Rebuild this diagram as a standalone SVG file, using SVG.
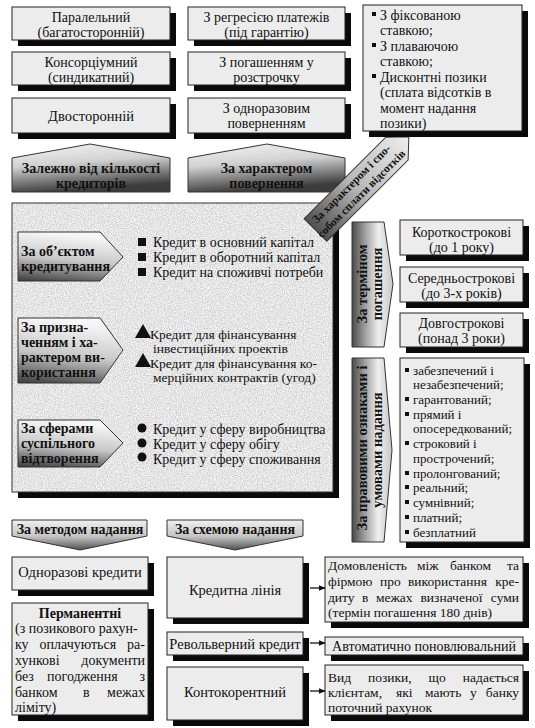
<svg xmlns="http://www.w3.org/2000/svg" width="535" height="728" viewBox="0 0 535 728">
<defs>
<style>
.box{fill:#ececec;stroke:#222;stroke-width:1}
.sh{fill:#0a0a0a}
.t{font-family:"Liberation Serif","Times New Roman","DejaVu Serif",serif;font-size:14px;fill:#111}
.s{font-size:13px}
.m{font-size:13.5px}
.b{font-weight:bold}
.c{text-anchor:middle}
.e{text-anchor:end}
.ar{stroke:#333;stroke-width:1}
.con{stroke:#111;stroke-width:1.3;fill:none}
</style>
<linearGradient id="gUp" x1="0" y1="0" x2="0.25" y2="1">
<stop offset="0" stop-color="#f4f4f4"/><stop offset="0.45" stop-color="#d2d2d2"/><stop offset="1" stop-color="#3c3c3c"/>
</linearGradient>
<linearGradient id="gRt" x1="0.2" y1="0" x2="0" y2="1">
<stop offset="0" stop-color="#f6f6f6"/><stop offset="0.5" stop-color="#c8c8c8"/><stop offset="1" stop-color="#3a3a3a"/>
</linearGradient>
<linearGradient id="gV" x1="0" y1="0" x2="1" y2="0">
<stop offset="0" stop-color="#4a4a4a"/><stop offset="0.3" stop-color="#9a9a9a"/><stop offset="0.65" stop-color="#efefef"/><stop offset="1" stop-color="#c8c8c8"/>
</linearGradient>
<linearGradient id="gDn" x1="0" y1="0" x2="0" y2="1">
<stop offset="0" stop-color="#f0f0f0"/><stop offset="0.55" stop-color="#c4c4c4"/><stop offset="1" stop-color="#505050"/>
</linearGradient>
<linearGradient id="gDg" x1="0" y1="0" x2="1" y2="0">
<stop offset="0" stop-color="#505050"/><stop offset="0.45" stop-color="#b8b8b8"/><stop offset="1" stop-color="#eeeeee"/>
</linearGradient>
<filter id="noise" x="0" y="0" width="100%" height="100%">
<feTurbulence type="fractalNoise" baseFrequency="0.85" numOctaves="2" seed="4" result="t"/>
<feColorMatrix in="t" type="matrix" values="0.7 0 0 0 0.43  0.7 0 0 0 0.43  0.7 0 0 0 0.43  0 0 0 0 1" result="g"/>
<feComposite in="g" in2="SourceGraphic" operator="in"/>
</filter>
<marker id="ah" viewBox="0 0 10 10" refX="9" refY="5" markerWidth="7" markerHeight="7" orient="auto" markerUnits="userSpaceOnUse">
<path d="M0,1 L10,5 L0,9 z" fill="#111"/>
</marker>
</defs>
<rect width="535" height="728" fill="#ffffff"/>

<!-- top-left column -->
<g id="n-paralel">
<rect class="sh" x="18" y="13" width="158" height="33"/><rect class="box" x="12" y="7" width="158" height="33"/>
<text class="t c" x="91" y="21.5">Паралельний</text><text class="t c" x="91" y="36.5">(багатосторонній)</text>
</g>
<g id="n-konsort">
<rect class="sh" x="18" y="58" width="158" height="33"/><rect class="box" x="12" y="52" width="158" height="33"/>
<text class="t c" x="91" y="66.5">Консорціумний</text><text class="t c" x="91" y="81.5">(синдикатний)</text>
</g>
<g id="n-dvostor">
<rect class="sh" x="18" y="104" width="158" height="35"/><rect class="box" x="12" y="98" width="158" height="35"/>
<text class="t c" x="91" y="121" style="font-size:14.5px">Двосторонній</text>
</g>
<g id="h-kilkist">
<polygon class="ar" points="12,158 90,144 170,158 170,192 12,192" fill="url(#gUp)"/>
<text class="t b c" x="91" y="173">Залежно від кількості</text>
<text class="t b c" x="91" y="188">кредиторів</text>
</g>

<!-- middle column -->
<g id="n-regres">
<rect class="sh" x="194" y="13" width="157" height="33"/><rect class="box" x="188" y="7" width="157" height="33"/>
<text class="t c" x="266.5" y="21.5">З регресією платежів</text><text class="t c" x="266.5" y="36.5">(під гарантію)</text>
</g>
<g id="n-rozstr">
<rect class="sh" x="194" y="58" width="157" height="33"/><rect class="box" x="188" y="52" width="157" height="33"/>
<text class="t c" x="266.5" y="66.5">З погашенням у</text><text class="t c" x="266.5" y="81.5">розстрочку</text>
</g>
<g id="n-odnoraz">
<rect class="sh" x="194" y="104" width="157" height="35"/><rect class="box" x="188" y="98" width="157" height="35"/>
<text class="t c" x="266.5" y="112.5">З одноразовим</text><text class="t c" x="266.5" y="128">поверненням</text>
</g>
<g id="h-povern">
<polygon class="ar" points="188,158 267,144 345,158 345,192 188,192" fill="url(#gUp)"/>
<text class="t b c" x="266.5" y="173">За характером</text>
<text class="t b c" x="266.5" y="188">повернення</text>
</g>

<!-- main textured panel -->
<g id="panel">
<rect class="sh" x="18" y="209" width="321" height="289"/>
<rect x="12" y="203" width="321" height="289" fill="#cacaca"/>
<rect x="12" y="203" width="321" height="289" fill="#cacaca" filter="url(#noise)"/>
<rect x="12" y="203" width="321" height="289" fill="none" stroke="#333" stroke-width="1"/>
</g>

<g id="h-obiekt">
<polygon class="ar" points="18,232 100,232 123,257 100,281 18,281" fill="url(#gRt)"/>
<text class="t b" x="21" y="256">За об’єктом</text>
<text class="t b" x="21" y="270.5">кредитування</text>
</g>
<g id="l-obiekt">
<rect x="138" y="238" width="8" height="8" fill="#111"/>
<rect x="138" y="253" width="8" height="8" fill="#111"/>
<rect x="138" y="268" width="8" height="8" fill="#111"/>
<text class="t" x="153" y="246.5">Кредит в основний капітал</text>
<text class="t" x="153" y="261.5">Кредит в оборотний капітал</text>
<text class="t" x="153" y="276.5">Кредит на споживчі потреби</text>
</g>

<g id="h-pryzn">
<polygon class="ar" points="18,318 100,318 123,350 100,383 18,383" fill="url(#gRt)"/>
<text class="t b" x="21" y="331.5">За призна-</text>
<text class="t b" x="21" y="346.5">ченням і ха-</text>
<text class="t b" x="21" y="361.5">рактером ви-</text>
<text class="t b" x="21" y="377">користання</text>
</g>
<g id="l-pryzn">
<polygon points="143,324 151,338 135,338" fill="#111"/>
<polygon points="143,353 151,367 135,367" fill="#111"/>
<text class="t m" x="150" y="339">Кредит для фінансування</text>
<text class="t m" x="153" y="353">інвестиційних проектів</text>
<text class="t m" x="150" y="368">Кредит для фінансування ко-</text>
<text class="t m" x="153" y="382">мерційних контрактів (угод)</text>
</g>

<g id="h-sfera">
<polygon class="ar" points="18,420 100,420 123,443 100,467 18,467" fill="url(#gRt)"/>
<text class="t b" x="21" y="433">За сферами</text>
<text class="t b" x="21" y="448">суспільного</text>
<text class="t b" x="21" y="463">відтворення</text>
</g>
<g id="l-sfera">
<circle cx="142" cy="428" r="4.5" fill="#111"/>
<circle cx="142" cy="443" r="4.5" fill="#111"/>
<circle cx="142" cy="457" r="4.5" fill="#111"/>
<text class="t" x="153" y="434">Кредит у сферу виробництва</text>
<text class="t" x="153" y="449">Кредит у сферу обігу</text>
<text class="t" x="153" y="464">Кредит у сферу споживання</text>
</g>

<!-- diagonal arrow -->
<g id="h-vidsotky" transform="translate(315.5,230) rotate(-45)">
<polygon class="ar" points="0,-16 115,-16 132,0 115,16 0,16" fill="url(#gDg)"/>
<text class="t b c" x="58" y="-3.5" style="font-size:11.5px">За характером і спо-</text>
<text class="t b c" x="58" y="10.5" style="font-size:11.5px">собом сплати відсотків</text>
</g>

<!-- top-right box -->
<g id="n-stavky">
<rect class="sh" x="369" y="11" width="159" height="126"/><rect class="box" x="363" y="5" width="159" height="126"/>
<rect x="372" y="12" width="4" height="4" fill="#111"/>
<rect x="372" y="43" width="4" height="4" fill="#111"/>
<rect x="372" y="74" width="4" height="4" fill="#111"/>
<text class="t" x="380" y="19.5">З фіксованою</text>
<text class="t" x="380" y="35">ставкою;</text>
<text class="t" x="380" y="50.5">З плаваючою</text>
<text class="t" x="380" y="66">ставкою;</text>
<text class="t" x="380" y="81.5">Дисконтні позики</text>
<text class="t" x="380" y="97">(сплата відсотків в</text>
<text class="t" x="380" y="112.5">момент надання</text>
<text class="t" x="380" y="128">позики)</text>
</g>

<!-- right: term -->
<g id="h-termin">
<polygon class="ar" points="352,222 384,222 393,284 384,347 352,347" fill="url(#gV)"/>
<text class="t b c" transform="translate(367,284) rotate(-90)" style="font-size:14.5px">За терміном</text>
<text class="t b c" transform="translate(382,284) rotate(-90)" style="font-size:14.5px">погашення</text>
</g>
<g id="n-korotk">
<rect class="sh" x="406" y="226" width="123" height="35"/><rect class="box" x="400" y="220" width="123" height="35"/>
<text class="t c" x="461.5" y="237">Короткострокові</text><text class="t c" x="461.5" y="252">(до 1 року)</text>
</g>
<g id="n-seredn">
<rect class="sh" x="406" y="273" width="123" height="35"/><rect class="box" x="400" y="267" width="123" height="35"/>
<text class="t c" x="461.5" y="282.5">Середньострокові</text><text class="t c" x="461.5" y="297.5">(до 3-х років)</text>
</g>
<g id="n-dovgo">
<rect class="sh" x="406" y="319" width="123" height="34"/><rect class="box" x="400" y="313" width="123" height="34"/>
<text class="t c" x="461.5" y="327.5">Довгострокові</text><text class="t c" x="461.5" y="342.5">(понад 3 роки)</text>
</g>

<!-- right: legal -->
<g id="h-pravovi">
<polygon class="ar" points="352,358 384,358 392,450 384,542 352,542" fill="url(#gV)"/>
<text class="t b c" transform="translate(367,448) rotate(-90)" style="font-size:14.5px">За правовими ознаками і</text>
<text class="t b c" transform="translate(382,450) rotate(-90)" style="font-size:14.5px">умовами надання</text>
</g>
<g id="n-pravovi">
<rect class="sh" x="406" y="364" width="124" height="184"/><rect class="box" x="400" y="358" width="124" height="184"/>
<g fill="#111">
<rect x="405" y="368" width="4" height="4"/>
<rect x="405" y="397" width="4" height="4"/>
<rect x="405" y="412" width="4" height="4"/>
<rect x="405" y="441" width="4" height="4"/>
<rect x="405" y="471" width="4" height="4"/>
<rect x="405" y="485" width="4" height="4"/>
<rect x="405" y="500" width="4" height="4"/>
<rect x="405" y="515" width="4" height="4"/>
<rect x="405" y="530" width="4" height="4"/>
</g>
<text class="t s" x="413" y="374.5">забезпечений і</text>
<text class="t s" x="413" y="389">незабезпечений;</text>
<text class="t s" x="413" y="403.5">гарантований;</text>
<text class="t s" x="413" y="418.5">прямий і</text>
<text class="t s" x="413" y="433">опосередкований;</text>
<text class="t s" x="413" y="448">строковий і</text>
<text class="t s" x="413" y="462.5">прострочений;</text>
<text class="t s" x="413" y="477.5">пролонгований;</text>
<text class="t s" x="413" y="492">реальний;</text>
<text class="t s" x="413" y="507">сумнівний;</text>
<text class="t s" x="413" y="521.5">платний;</text>
<text class="t s" x="413" y="536.5">безплатний</text>
</g>

<!-- bottom headers -->
<g id="h-metod">
<polygon class="ar" points="12,520 147,520 147,536 80,550 12,536" fill="url(#gDn)"/>
<text class="t b c" x="80" y="533.5">За методом надання</text>
</g>
<g id="h-shema">
<polygon class="ar" points="167,520 303,520 303,536 235,550 167,536" fill="url(#gDn)"/>
<text class="t b c" x="235" y="533.5">За схемою надання</text>
</g>

<!-- bottom-left boxes -->
<g id="n-odnoraz-kred">
<rect class="sh" x="18" y="563" width="136" height="33"/><rect class="box" x="12" y="557" width="136" height="33"/>
<text class="t c" x="80" y="577" style="font-size:14.5px">Одноразові кредити</text>
</g>
<g id="n-perman">
<rect class="sh" x="18" y="609" width="136" height="112"/><rect class="box" x="12" y="603" width="136" height="112"/>
<text class="t b c" x="80" y="617.5">Перманентні</text>
<text class="t" x="15" y="633">(з позикового рахун-</text>
<text class="t" x="15" y="649">ку</text><text class="t" x="39.5" y="649">оплачуються</text><text class="t e" x="145" y="649">ра-</text>
<text class="t" x="15" y="665">хункові</text><text class="t e" x="145" y="665">документи</text>
<text class="t" x="15" y="681">без</text><text class="t" x="47" y="681">погодження</text><text class="t e" x="145" y="681">з</text>
<text class="t" x="15" y="696.5">банком</text><text class="t" x="83" y="696.5">в</text><text class="t e" x="145" y="696.5">межах</text>
<text class="t" x="15" y="712">ліміту)</text>
</g>

<!-- bottom-middle boxes -->
<g id="n-kredlinia">
<rect class="sh" x="173" y="563" width="136" height="61"/><rect class="box" x="167" y="557" width="136" height="61"/>
<text class="t c" x="235" y="595" style="font-size:14.5px">Кредитна лінія</text>
</g>
<g id="n-revolv">
<rect class="sh" x="173" y="638" width="136" height="23"/><rect class="box" x="167" y="632" width="136" height="23"/>
<text class="t c" x="235" y="648.5" style="font-size:14.5px">Револьверний кредит</text>
</g>
<g id="n-kontokor">
<rect class="sh" x="173" y="673" width="136" height="53"/><rect class="box" x="167" y="667" width="136" height="53"/>
<text class="t c" x="235" y="696.5" style="font-size:14.5px">Контокорентний</text>
</g>

<!-- bottom-right boxes -->
<g id="n-domovl">
<rect class="sh" x="331" y="563" width="198" height="65"/><rect class="box" x="325" y="557" width="198" height="65"/>
<text class="t m" x="328" y="570">Домовленість</text><text class="t m" x="417" y="570">між</text><text class="t m" x="450" y="570">банком</text><text class="t m e" x="519" y="570">та</text>
<text class="t m" x="328" y="586">фірмою</text><text class="t m" x="380" y="586">про</text><text class="t m" x="408" y="586">використання</text><text class="t m e" x="519" y="586">кре-</text>
<text class="t m" x="328" y="601.5">диту</text><text class="t m" x="362" y="601.5">в</text><text class="t m" x="376" y="601.5">межах</text><text class="t m" x="420.5" y="601.5">визначеної</text><text class="t m e" x="519" y="601.5">суми</text>
<text class="t m" x="328" y="617">(термін погашення 180 днів)</text>
</g>
<g id="n-avtomat">
<rect class="sh" x="331" y="643" width="198" height="18"/><rect class="box" x="325" y="637" width="198" height="18"/>
<text class="t c" x="424" y="650.5">Автоматично поновлювальний</text>
</g>
<g id="n-vyd">
<rect class="sh" x="331" y="671" width="198" height="50"/><rect class="box" x="325" y="665" width="198" height="50"/>
<text class="t m" x="328" y="681.5">Вид</text><text class="t m" x="368" y="681.5">позики,</text><text class="t m" x="428.5" y="681.5">що</text><text class="t m e" x="519" y="681.5">надається</text>
<text class="t m" x="328" y="696.5">клієнтам,</text><text class="t m" x="396" y="696.5">які</text><text class="t m" x="425" y="696.5">мають</text><text class="t m" x="470" y="696.5">у</text><text class="t m e" x="519" y="696.5">банку</text>
<text class="t m" x="328" y="711.5">поточний рахунок</text>
</g>

<!-- connectors -->
<g id="connectors">
<line class="con" x1="310" y1="588" x2="325" y2="588" marker-end="url(#ah)"/>
<line class="con" x1="310" y1="643" x2="325" y2="643" marker-end="url(#ah)"/>
<line class="con" x1="310" y1="691" x2="325" y2="691" marker-end="url(#ah)"/>
</g>
</svg>
